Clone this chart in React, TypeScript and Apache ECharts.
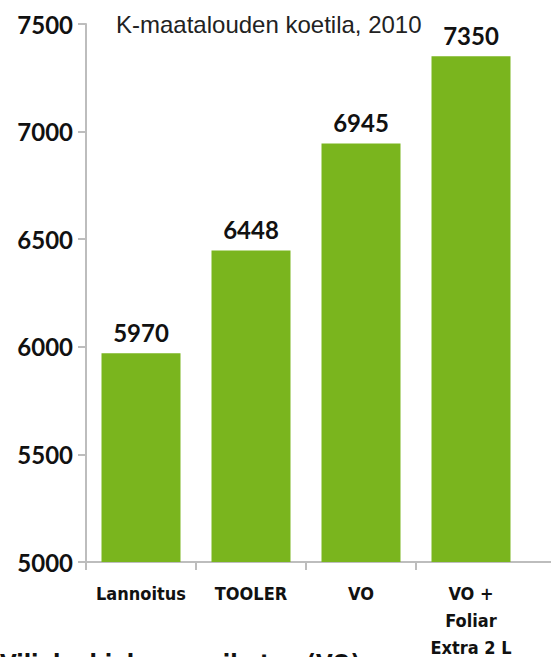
import React, { useEffect, useRef } from "react";
import * as echarts from "echarts";

const categories = ["Lannoitus", "TOOLER", "VO", "VO +\nFoliar\nExtra 2 L", ""];
const values: (number | null)[] = [5970, 6448, 6945, 7350, null];
const chartTitle = "K-maatalouden koetila, 2010";
const footnote = "Viljelyohjelman vaikutus (VO)";
const yMin = 5000;
const yMax = 7500;
const yStep = 500;

const GREEN = "#7AB51E";
const AXIS = "#BDBDBD";
const NUM_FONT = "Lato, 'Noto Sans', sans-serif";
const COND_FONT = "'DejaVu Sans Condensed', 'Liberation Sans Narrow', sans-serif";

export default function App() {
  const ref = useRef<HTMLDivElement>(null);
  useEffect(() => {
    if (!ref.current) return;
    document.body.style.overflow = "hidden";
    const chart = echarts.init(ref.current, undefined, { renderer: "svg" });
    chart.setOption({
      animation: false,
      grid: { left: 86, right: 0, top: 24, bottom: 95, containLabel: false, outerBoundsMode: "none" },
      xAxis: {
        type: "category",
        data: categories,
        axisLine: { show: true, lineStyle: { color: AXIS, width: 2 } },
        axisTick: {
          show: true,
          length: 8,
          lineStyle: { color: AXIS, width: 2 },
          interval: (index: number) => index < 4,
        },
        axisLabel: {
          interval: 0,
          margin: 18,
          fontFamily: COND_FONT,
          fontWeight: "bold",
          fontSize: 18,
          lineHeight: 27,
          color: "#111",
        },
      },
      yAxis: {
        type: "value",
        min: yMin,
        max: yMax,
        interval: yStep,
        axisLine: { show: true, lineStyle: { color: AXIS, width: 2 } },
        axisTick: { show: true, length: 8, lineStyle: { color: AXIS, width: 2 } },
        splitLine: { show: false },
        axisLabel: {
          margin: 13,
          fontFamily: NUM_FONT,
          fontWeight: "bold",
          fontSize: 24,
          color: "#111",
          formatter: (v: number) => String(v),
        },
      },
      series: [
        {
          type: "bar",
          data: values,
          barWidth: 79,
          itemStyle: { color: GREEN },
          label: {
            show: true,
            position: "top",
            distance: 9,
            fontFamily: NUM_FONT,
            fontWeight: "bold",
            fontSize: 24,
            color: "#111",
          },
        },
      ],
      graphic: [
        {
          type: "text",
          left: 116,
          top: 12,
          style: {
            text: chartTitle,
            fontFamily: "'Liberation Sans', Arial, sans-serif",
            fontSize: 24,
            fill: "#222",
          },
        },
        {
          type: "text",
          left: 0,
          top: 652,
          style: {
            text: footnote,
            fontFamily: COND_FONT,
            fontWeight: "bold",
            fontSize: 24,
            fill: "#111",
          },
        },
      ],
    });
    return () => chart.dispose();
  }, []);
  return (
    <div style={{ position: "absolute", left: 0, top: 0, width: 551, height: 657, overflow: "hidden", background: "#fff" }}>
      <div ref={ref} style={{ width: 636, height: 657 }} />
    </div>
  );
}
